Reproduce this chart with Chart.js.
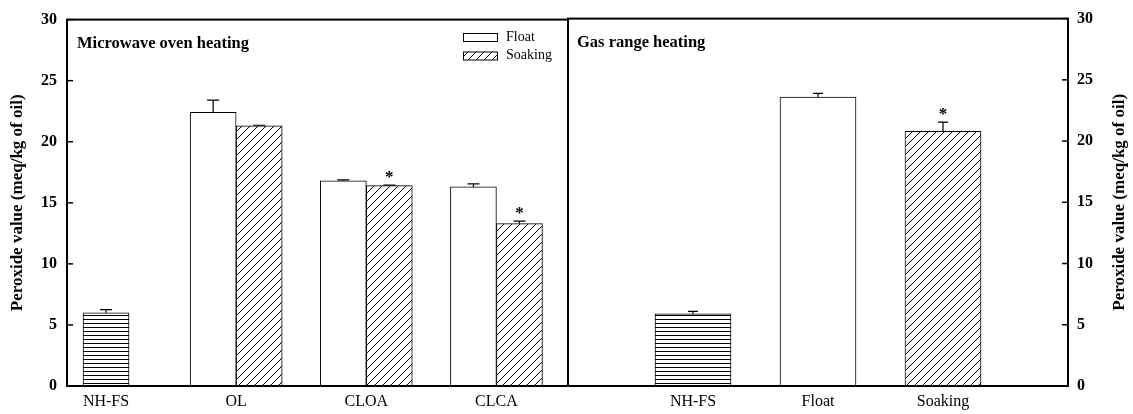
<!DOCTYPE html>
<html>
<head>
<meta charset="utf-8">
<script src="https://cdn.jsdelivr.net/npm/chart.js@4/dist/chart.umd.min.js"></script>
<style>
html,body{margin:0;padding:0;background:#fff;}
#wrap{position:relative;width:1133px;height:414px;overflow:hidden;}
#left{position:absolute;left:0;top:0;width:580px;height:414px;}
#right{position:absolute;left:556px;top:0;width:577px;height:414px;}
</style>
</head>
<body>
<div id="wrap">
<div id="left"><canvas id="c1"></canvas></div>
<div id="right"><canvas id="c2"></canvas></div>
</div>
<script>
/* DATA */

const leftCats = ["NH-FS", "OL", "CLOA", "CLCA"];
const leftControl = [6.0, null, null, null];
const leftControlErr = [0.25, null, null, null];
const leftFloat = [null, 22.4, 16.8, 16.3];
const leftFloatErr = [null, 1.0, 0.08, 0.25];
const leftSoak = [null, 21.3, 16.4, 13.3];
const leftSoakErr = [null, 0.05, 0.05, 0.2];
const leftSoakStar = [false, false, true, true];

const rightCats = ["NH-FS", "Float", "Soaking"];
const rightControl = [5.9, null, null];
const rightControlErr = [0.2, null, null];
const rightFloat = [null, 23.6, null];
const rightFloatErr = [null, 0.3, null];
const rightSoak = [null, null, 20.8];
const rightSoakErr = [null, null, 0.75];
const rightSoakStar = [false, false, true];

const yTicks = [0, 5, 10, 15, 20, 25, 30];
const yTitle = "Peroxide value (meq/kg of oil)";
const legendNames = ["Float", "Soaking"];

const SERIF = '"Liberation Serif", "Times New Roman", serif';
Chart.defaults.color = "#000";
Chart.defaults.font.family = SERIF;


/* PATTERNS */

function makeLines(){
let c = document.createElement("canvas");
c.width = 8; c.height = 4;
let g = c.getContext("2d");
g.fillStyle = "#fff"; g.fillRect(0,0,8,4);
g.fillStyle = "#000"; g.fillRect(0,3,8,1);
return g.createPattern(c,"repeat");
}

function makeHatch(){
let s = 8;
let c = document.createElement("canvas");
c.width = s; c.height = s;
let g = c.getContext("2d");
g.fillStyle = "#fff"; g.fillRect(0,0,s,s);
g.strokeStyle = "#000"; g.lineWidth = 1;
for(let k of [-s,0,s]){
g.beginPath();
g.moveTo(k-1, s+1);
g.lineTo(k+s+1, -1);
g.stroke();
}
return g.createPattern(c,"repeat");
}

const linesFill = makeLines();
const hatchFill = makeHatch();


/* DECORATION PLUGIN: error bars, stars, frame, ticks, titles, legend */

const deco = {
id: "deco",
afterDatasetsDraw(chart, args, opts){
const ctx = chart.ctx;
const y = chart.scales.y;
ctx.save();
ctx.strokeStyle = "#000";
ctx.fillStyle = "#000";
ctx.lineWidth = 1.2;
chart.data.datasets.forEach((ds, di)=>{
chart.getDatasetMeta(di).data.forEach((bar, i)=>{
let v = ds.data[i];
if(v == null) return;
let e = ds.err ? ds.err[i] : null;
let top = bar.y;
if(e){
top = y.getPixelForValue(v + e);
ctx.beginPath();
ctx.moveTo(bar.x, bar.y);
ctx.lineTo(bar.x, top);
ctx.moveTo(bar.x - opts.cap/2, top);
ctx.lineTo(bar.x + opts.cap/2, top);
ctx.stroke();
}
if(ds.star && ds.star[i]){
ctx.font = "bold 17px " + SERIF;
ctx.textAlign = "center";
ctx.textBaseline = "alphabetic";
ctx.fillText("*", bar.x, top - 3);
}
});
});
ctx.restore();
},
afterDraw(chart, args, opts){
const ctx = chart.ctx;
const ca = chart.chartArea;
const y = chart.scales.y;
ctx.save();
ctx.strokeStyle = "#000";
ctx.fillStyle = "#000";

// frame
ctx.lineWidth = 2;
ctx.strokeRect(ca.left, ca.top, ca.width, ca.height);

// inward ticks
ctx.lineWidth = 1.5;
let ax = opts.side === "left" ? ca.left : ca.right;
let dir = opts.side === "left" ? 1 : -1;
yTicks.forEach(t=>{
let py = y.getPixelForValue(t);
ctx.beginPath();
ctx.moveTo(ax, py);
ctx.lineTo(ax + dir*6, py);
ctx.stroke();
});

// panel title
ctx.font = "bold 16.5px " + SERIF;
ctx.textAlign = "left";
ctx.textBaseline = "alphabetic";
ctx.fillText(opts.title, ca.left + opts.titleX, ca.top + 28);

// right side axis title (reads bottom to top)
if(opts.side === "right"){
ctx.save();
ctx.translate(chart.width - 13, (ca.top + ca.bottom)/2);
ctx.rotate(-Math.PI/2);
ctx.font = "bold 17px " + SERIF;
ctx.textAlign = "center";
ctx.textBaseline = "middle";
ctx.fillText(yTitle, 0, 0);
ctx.restore();
}

// legend
if(opts.legend){
let lx = opts.legend.x, ly = opts.legend.y;
ctx.font = "14px " + SERIF;
ctx.textAlign = "left";
ctx.textBaseline = "middle";
ctx.lineWidth = 1;
chart.data.datasets.filter(d=>legendNames.includes(d.label)).forEach((d, k)=>{
let by = ly + k*18.5;
ctx.fillStyle = d.backgroundColor;
ctx.fillRect(lx, by, 34, 8);
ctx.strokeRect(lx + 0.5, by + 0.5, 34, 8);
ctx.fillStyle = "#000";
ctx.fillText(d.label, lx + 43, by + 4);
});
}
ctx.restore();
}
};


/* CHART BUILDER */

function xScale(cats, min, max){
return {
type: "linear",
offset: false,
min: min,
max: max,
afterBuildTicks: s=>{ s.ticks = cats.map((c,i)=>({value:i})); },
afterFit: s=>{ s.height = 28; },
grid: {display:false, drawTicks:false, offset:false},
border: {display:false},
ticks: {
padding: 6,
font: {size: 16},
callback: v=>cats[v] || ""
}
};
}

function yScale(side){
let s = {
type: "linear",
position: side,
min: 0,
max: 30,
afterBuildTicks: sc=>{ sc.ticks = yTicks.map(v=>({value:v})); },
afterFit: sc=>{ sc.width = side === "left" ? 67 : 65; },
grid: {display:false, drawTicks:false},
border: {display:false},
ticks: {
padding: side === "left" ? 10 : 9,
font: {size: 16, weight: "bold"}
}
};
if(side === "left"){
s.title = {
display: true,
text: yTitle,
font: {size: 17, weight: "bold"},
padding: {top: 7, bottom: 0}
};
}
return s;
}

function bars(label, data, err, fill, width, star){
return {
label: label,
data: data,
err: err,
star: star,
backgroundColor: fill,
borderColor: "#000",
borderWidth: 1,
barThickness: width
};
}

const common = {
responsive: true,
maintainAspectRatio: false,
animation: false,
events: [],
plugins: {legend: {display:false}, tooltip: {enabled:false}}
};

new Chart(document.getElementById("c1"), {
type: "bar",
data: {
labels: leftCats.map((c,i)=>i),
datasets: [
bars("NH-FS", leftControl, leftControlErr, linesFill, 46),
bars("Float", leftFloat, leftFloatErr, "#fff", 46),
bars("Soaking", leftSoak, leftSoakErr, hatchFill, 46, leftSoakStar)
]
},
options: Object.assign({}, common, {
skipNull: true,
layout: {padding: {top: 15, right: 12, left: 0, bottom: 0}},
scales: {x: xScale(leftCats, -0.3, 3.55), y: yScale("left")},
plugins: Object.assign({}, common.plugins, {
deco: {side: "left", cap: 12, title: "Microwave oven heating", titleX: 10, legend: {x: 463, y: 33}}
})
}),
plugins: [deco]
});

new Chart(document.getElementById("c2"), {
type: "bar",
data: {
labels: rightCats.map((c,i)=>i),
datasets: [
bars("NH-FS", rightControl, rightControlErr, linesFill, 76),
bars("Float", rightFloat, rightFloatErr, "#fff", 76),
bars("Soaking", rightSoak, rightSoakErr, hatchFill, 76, rightSoakStar)
]
},
options: Object.assign({}, common, {
skipNull: true,
layout: {padding: {top: 15, right: 0, left: 12, bottom: 0}},
scales: {x: xScale(rightCats, -1, 3), y: yScale("right")},
plugins: Object.assign({}, common.plugins, {
deco: {side: "right", cap: 10, title: "Gas range heating", titleX: 9, legend: null}
})
}),
plugins: [deco]
});
</script>
</body>
</html>
